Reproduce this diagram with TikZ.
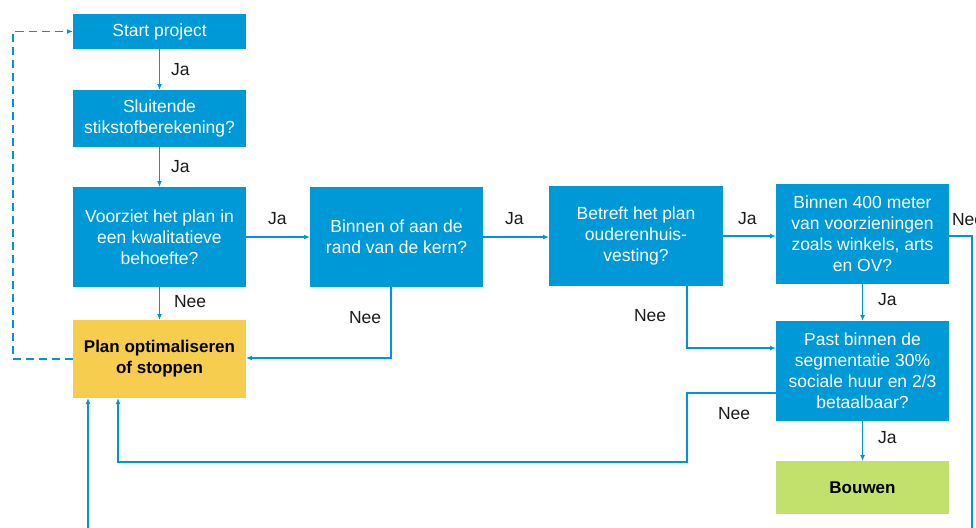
\documentclass[tikz,border=0pt]{standalone}
\usepackage{fontspec}
\setmainfont{Liberation Sans}
\usetikzlibrary{arrows.meta}
\definecolor{boxblue}{HTML}{0099D8}
\definecolor{lineblue}{HTML}{0096D6}
\definecolor{planyellow}{HTML}{F7CD50}
\definecolor{buildgreen}{HTML}{C1E16C}
\definecolor{labeltext}{HTML}{1A1A1A}
\begin{document}
\begin{tikzpicture}[x=1pt,y=-1pt,
  every node/.style={font=\fontsize{17.5}{21}\selectfont, inner sep=0pt, outer sep=0pt},
  bluebox/.style={fill=boxblue, text=white, align=center, minimum width=173pt},
  planbox/.style={fill=planyellow, text=black, align=center, minimum width=173pt, font=\fontsize{17}{21}\selectfont\bfseries},
  greenbox/.style={fill=buildgreen, text=black, align=center, minimum width=173pt, font=\fontsize{17}{21}\selectfont\bfseries},
  lbl/.style={text=labeltext, anchor=west},
  arr/.style={draw=lineblue, line width=1.8pt, -{Latex[length=6pt,width=5pt]}},
  conn/.style={draw=lineblue, line width=1.8pt},
  dashedarr/.style={draw=lineblue, line width=1.8pt, dash pattern=on 8pt off 5pt, -{Latex[length=6pt,width=5pt]}}
]
\useasboundingbox (0,0) rectangle (976,527);

% boxes
\node[bluebox, minimum height=35pt] (start) at (159.5,31.5) {Start project};
\node[bluebox, minimum height=57pt] (sluit) at (159.5,118.5) {Sluitende\\stikstofberekening?};
\node[bluebox, minimum height=100pt] (voor) at (159.5,237) {Voorziet het plan in\\een kwalitatieve\\behoefte?};
\node[bluebox, minimum height=100pt] (binnen) at (396.5,237) {Binnen of aan de\\rand van de kern?};
\node[bluebox, minimum height=100pt, minimum width=174pt] (betreft) at (636,236) {Betreft het plan\\ouderenhuis-\\vesting?};
\node[bluebox, minimum height=100pt] (b400) at (862.5,234) {Binnen 400 meter\\van voorzieningen\\zoals winkels, arts\\en OV?};
\node[planbox, minimum height=78pt] (plan) at (159.5,359) {Plan optimaliseren\\of stoppen};
\node[bluebox, minimum height=100pt] (past) at (862.5,371) {Past binnen de\\segmentatie 30\%\\sociale huur en 2/3\\betaalbaar?};
\node[greenbox, minimum height=53pt] (bouwen) at (862.5,487.5) {Bouwen};

% helper coordinates
\coordinate (dashx) at (13,0);
\coordinate (rightx) at (972,0);
\coordinate (rightbot) at (972,540);
\coordinate (leftbot) at (88,540);
\coordinate (bnx) at (391,358);
\coordinate (btx) at (687,348);
\coordinate (pnA) at (687,393);
\coordinate (pnB) at (687,462);
\coordinate (pnC) at (118,462);

% vertical Ja arrows
\draw[arr] (start.south) -- (sluit.north);
\draw[arr] (sluit.south) -- (voor.north);
\draw[arr] (voor.south) -- (plan.north);
\draw[arr] (b400.south) -- (past.north);
\draw[arr] (past.south) -- (bouwen.north);

% horizontal Ja arrows
\draw[arr] (voor.east) -- (binnen.west);
\draw[arr] (binnen.east) -- (binnen.east -| betreft.west);
\draw[arr] (betreft.east) -- (betreft.east -| b400.west);

% Nee connectors
\draw[arr] (binnen.south -| bnx) -- (bnx) -- (bnx -| plan.east);
\draw[arr] (betreft.south -| btx) -- (btx) -- (btx -| past.west);
\draw[arr] (pnA -| past.west) -- (pnA) -- (pnB) -- (pnC) -- (pnC |- plan.south);
\draw[conn] (b400.east |- 0,236) -- (rightx |- 0,236) -- (rightbot);
\draw[arr] (leftbot) -- (leftbot |- plan.south);

% dashed feedback
\draw[dashedarr] (plan.west) -- (plan.west -| dashx) -- (start.west -| dashx) -- (start.west);

% labels
\node[lbl] (l1) at (171,70) {Ja};
\node[lbl] (l2) at (171,167) {Ja};
\node[lbl] (l3) at (174,302) {Nee};
\node[lbl] (l4) at (268,219) {Ja};
\node[lbl] (l5) at (505,219) {Ja};
\node[lbl] (l6) at (738,219) {Ja};
\node[lbl] (l7) at (349,318) {Nee};
\node[lbl] (l8) at (634,316) {Nee};
\node[lbl] (l9) at (878,300) {Ja};
\node[lbl] (l10) at (878,438) {Ja};
\node[lbl] (l11) at (718,414) {Nee};
\node[lbl] (l12) at (952,220) {Nee};
\end{tikzpicture}
\end{document}
